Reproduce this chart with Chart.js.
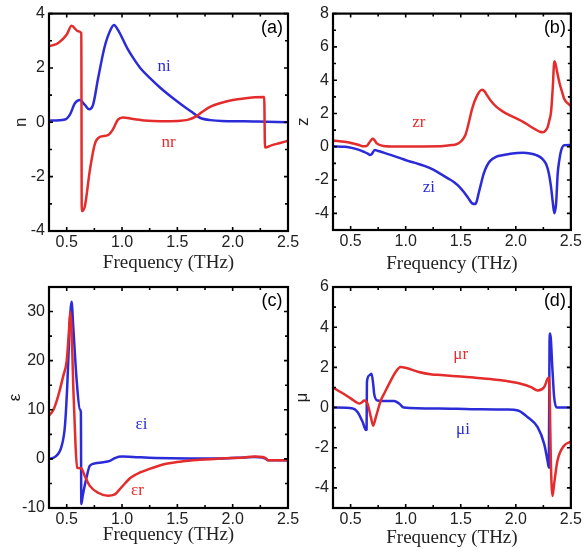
<!DOCTYPE html>
<html>
<head>
<meta charset="utf-8">
<script src="https://cdn.jsdelivr.net/npm/chart.js@4.4.0/dist/chart.umd.min.js"></script>
<style>
  body { margin: 0; background: #fff; }
  #wrap { position: relative; width: 584px; height: 556px; }
  #wrap canvas { position: absolute; left: 0; top: 0; }
</style>
</head>
<body>
<div id="wrap">
  <canvas id="panelA" width="584" height="556"></canvas>
  <canvas id="panelB" width="584" height="556"></canvas>
  <canvas id="panelC" width="584" height="556"></canvas>
  <canvas id="panelD" width="584" height="556"></canvas>
</div>
<script>
const RED = '#e42c2c';
const BLUE = '#2b2bd8';

// **Shared frequency axis (THz)**
const freqMin = 0.34, freqMax = 2.5;
const freqTicks = [0.5, 1.0, 1.5, 2.0, 2.5];
const freqMinor = [0.75, 1.25, 1.75, 2.25];

// **(a) refractive index n**
const nTicks = [-4, -2, 0, 2, 4];
const nMinor = [-3, -1, 1, 3];
const nrFreq = [0.34, 0.424, 0.499, 0.544, 0.604, 0.632, 0.636, 0.664, 0.709, 0.754, 0.799, 0.873, 0.918, 0.963, 1.008, 1.1, 1.2, 1.35, 1.5, 1.6, 1.67, 1.73, 1.8, 1.9, 2.0, 2.1, 2.2, 2.285, 2.292, 2.35, 2.42, 2.5];
const nrVal  = [2.8, 2.92, 3.22, 3.55, 3.35, 3.28, -3.27, -3.09, -1.77, -0.8, -0.54, -0.47, -0.26, 0.1, 0.18, 0.12, 0.07, 0.04, 0.05, 0.1, 0.22, 0.4, 0.58, 0.72, 0.82, 0.88, 0.92, 0.93, -0.93, -0.85, -0.77, -0.68];
const niFreq = [0.34, 0.484, 0.529, 0.574, 0.619, 0.664, 0.702, 0.738, 0.783, 0.844, 0.904, 0.927, 0.963, 1.053, 1.12, 1.174, 1.26, 1.338, 1.41, 1.488, 1.56, 1.638, 1.69, 1.728, 1.8, 1.9, 2.1, 2.3, 2.5];
const niVal  = [0.06, 0.1, 0.28, 0.7, 0.82, 0.64, 0.48, 0.64, 1.6, 2.8, 3.47, 3.58, 3.4, 2.68, 2.25, 1.95, 1.6, 1.3, 1.05, 0.8, 0.58, 0.36, 0.2, 0.13, 0.08, 0.05, 0.04, 0.02, 0.0];

// **(b) impedance z**
const zTicks = [-4, -2, 0, 2, 4, 6, 8];
const zMinor = [-5, -3, -1, 1, 3, 5, 7];
const zrFreq = [0.34, 0.40, 0.46, 0.52, 0.57, 0.61, 0.645, 0.675, 0.70, 0.715, 0.735, 0.77, 0.8, 0.9, 1.1, 1.32, 1.42, 1.47, 1.51, 1.543, 1.575, 1.603, 1.648, 1.693, 1.72, 1.738, 1.78, 1.827, 1.887, 1.947, 2.006, 2.066, 2.126, 2.186, 2.22, 2.246, 2.27, 2.29, 2.305, 2.32, 2.335, 2.35, 2.36, 2.375, 2.396, 2.42, 2.44, 2.465, 2.5];
const zrVal  = [0.38, 0.33, 0.28, 0.2, 0.12, 0.03, 0.05, 0.3, 0.48, 0.42, 0.22, 0.1, 0.05, 0.02, 0.02, 0.03, 0.1, 0.17, 0.38, 0.72, 1.5, 2.28, 3.07, 3.42, 3.3, 3.1, 2.7, 2.38, 2.1, 1.89, 1.7, 1.5, 1.25, 1.01, 0.9, 0.87, 0.97, 1.2, 1.6, 2.09, 3.5, 5.13, 5.0, 4.5, 3.85, 3.3, 2.87, 2.65, 2.45];
const ziFreq = [0.34, 0.45, 0.52, 0.57, 0.62, 0.66, 0.675, 0.69, 0.72, 0.75, 0.8, 0.87, 0.95, 1.02, 1.1, 1.17, 1.25, 1.32, 1.38, 1.44, 1.49, 1.528, 1.57, 1.603, 1.633, 1.648, 1.662, 1.685, 1.707, 1.737, 1.767, 1.82, 1.887, 1.95, 2.066, 2.13, 2.186, 2.24, 2.276, 2.3, 2.32, 2.335, 2.35, 2.366, 2.38, 2.395, 2.41, 2.44, 2.5];
const ziVal  = [0.03, 0.0, -0.08, -0.17, -0.3, -0.43, -0.5, -0.45, -0.2, -0.25, -0.35, -0.5, -0.68, -0.85, -1.0, -1.15, -1.38, -1.64, -1.88, -2.13, -2.42, -2.72, -3.1, -3.4, -3.44, -3.2, -2.81, -2.2, -1.64, -1.15, -0.85, -0.6, -0.5, -0.42, -0.36, -0.4, -0.5, -0.72, -1.05, -1.6, -2.42, -3.3, -3.99, -3.4, -1.64, -0.8, -0.26, 0.09, 0.1];

// **(c) permittivity ε**
const eTicks = [-10, 0, 10, 20, 30];
const eMinor = [-5, 5, 15, 25, 35];
const erFreq = [0.34, 0.38, 0.424, 0.469, 0.5, 0.52, 0.532, 0.545, 0.559, 0.58, 0.594, 0.63, 0.664, 0.709, 0.783, 0.873, 0.93, 0.994, 1.08, 1.17, 1.248, 1.32, 1.4, 1.55, 1.7, 1.9, 2.1, 2.2, 2.27, 2.3, 2.32, 2.5];
const erVal  = [8.8, 10.0, 12.9, 16.9, 20.0, 26.0, 30.0, 26.0, 14.9, 2.65, -1.8, -1.9, -3.5, -5.5, -6.9, -7.5, -7.3, -5.8, -3.8, -2.7, -2.04, -1.5, -1.0, -0.5, -0.2, 0.1, 0.3, 0.5, 0.4, 0.1, -0.3, -0.3];
const eiFreq = [0.34, 0.394, 0.454, 0.484, 0.505, 0.523, 0.544, 0.559, 0.589, 0.619, 0.628, 0.632, 0.645, 0.679, 0.709, 0.76, 0.83, 0.89, 0.93, 0.97, 1.0, 1.1, 1.3, 1.6, 1.9, 2.1, 2.2, 2.27, 2.3, 2.32, 2.5];
const eiVal  = [0.0, 0.4, 2.6, 6.7, 14.9, 25.0, 32.0, 27.0, 16.3, 10.1, 9.5, -9.2, -7.5, -3.8, -1.4, -0.9, -0.7, -0.4, 0.1, 0.45, 0.5, 0.4, 0.2, 0.1, 0.1, 0.3, 0.4, 0.3, 0.0, -0.3, -0.3];

// **(d) permeability μ**
const mTicks = [-4, -2, 0, 2, 4, 6];
const mMinor = [-5, -3, -1, 1, 3, 5];
const mrFreq = [0.34, 0.4, 0.46, 0.51, 0.55, 0.58, 0.6, 0.624, 0.654, 0.684, 0.705, 0.729, 0.774, 0.81, 0.849, 0.909, 0.953, 0.998, 1.118, 1.238, 1.32, 1.5, 1.62, 1.8, 1.917, 2.019, 2.138, 2.198, 2.258, 2.288, 2.3, 2.308, 2.318, 2.333, 2.348, 2.378, 2.438, 2.5];
const mrVal  = [1.0, 0.8, 0.6, 0.42, 0.27, 0.2, 0.25, 0.35, 0.18, -0.48, -0.9, -0.48, 0.35, 0.75, 1.18, 1.77, 2.02, 1.98, 1.77, 1.65, 1.62, 1.54, 1.49, 1.4, 1.32, 1.22, 1.02, 0.85, 1.02, 1.43, 1.5, 0.5, -2.65, -4.4, -3.8, -2.65, -1.9, -1.7];
const miFreq = [0.34, 0.52, 0.564, 0.61, 0.639, 0.645, 0.648, 0.669, 0.69, 0.705, 0.714, 0.744, 0.819, 0.894, 0.94, 0.983, 1.3, 1.6, 1.917, 2.019, 2.108, 2.198, 2.258, 2.288, 2.3, 2.306, 2.312, 2.333, 2.348, 2.372, 2.5];
const miVal  = [0.0, -0.05, -0.23, -0.73, -1.12, -1.1, 1.27, 1.6, 1.68, 1.17, 0.68, 0.35, 0.32, 0.32, 0.2, 0.0, -0.05, -0.08, -0.1, -0.15, -0.48, -0.98, -1.82, -2.65, -2.98, 3.3, 3.68, 1.85, 0.52, 0.0, 0.0];

function toPoints(fs, vs) {
    return fs.map((f, i) => ({ x: f, y: vs[i] }));
}

// frame, inward ticks, curve labels and panel tag
function framePlugin(cfg) {
    return {
        id: 'frame' + cfg.tag,
        afterDraw(chart) {
            const { ctx, chartArea: a, scales: { x, y } } = chart;
            ctx.save();
            ctx.strokeStyle = '#000';
            ctx.lineWidth = 1.6;
            ctx.beginPath();
            const xTick = (v, len) => {
                const px = x.getPixelForValue(v);
                ctx.moveTo(px, a.bottom); ctx.lineTo(px, a.bottom - len);
                ctx.moveTo(px, a.top); ctx.lineTo(px, a.top + len);
            };
            const yTick = (v, len) => {
                const py = y.getPixelForValue(v);
                ctx.moveTo(a.left, py); ctx.lineTo(a.left + len, py);
                ctx.moveTo(a.right, py); ctx.lineTo(a.right - len, py);
            };
            freqTicks.forEach(v => xTick(v, 4));
            freqMinor.forEach(v => xTick(v, 3));
            cfg.yTicks.forEach(v => yTick(v, 4));
            cfg.yMinor.forEach(v => yTick(v, 3));
            ctx.stroke();

            ctx.lineWidth = 2.2;
            ctx.strokeRect(a.left, a.top, a.right - a.left, a.bottom - a.top);

            ctx.textAlign = 'center';
            ctx.textBaseline = 'middle';
            ctx.font = '17px "Liberation Serif"';
            cfg.labels.forEach(l => {
                ctx.fillStyle = l.color;
                ctx.fillText(l.text, x.getPixelForValue(l.f), y.getPixelForValue(l.v));
            });

            ctx.fillStyle = '#000';
            ctx.font = '18px "Liberation Sans"';
            ctx.fillText('(' + cfg.tag + ')', a.right - 16, a.top + 14);
            ctx.restore();
        }
    };
}

function makePanel(id, cfg) {
    const yw = cfg.yTitleOff + 10.2;
    const xh = cfg.xTitleOff + 11.4;
    return new Chart(document.getElementById(id).getContext('2d'), {
        type: 'line',
        data: {
            datasets: cfg.series.map(s => ({
                data: toPoints(s.f, s.v),
                borderColor: s.color,
                borderWidth: 2.5,
                pointRadius: 0,
                fill: false,
                cubicInterpolationMode: 'monotone'
            }))
        },
        options: {
            responsive: false,
            animation: false,
            events: [],
            layout: { padding: { left: cfg.L - yw, top: cfg.T, right: 584 - cfg.R, bottom: 556 - cfg.B - xh } },
            plugins: { legend: { display: false }, tooltip: { enabled: false } },
            scales: {
                x: {
                    type: 'linear', min: freqMin, max: freqMax,
                    afterBuildTicks: s => { s.ticks = freqTicks.map(v => ({ value: v })); },
                    afterFit: s => { s.height = xh; },
                    grid: { display: false, drawTicks: false },
                    border: { display: false },
                    ticks: { padding: 2, color: '#222', font: { family: 'Liberation Sans', size: 16 }, maxRotation: 0, callback: v => v.toFixed(1) },
                    title: { display: true, text: 'Frequency (THz)', color: '#222', padding: 0, font: { family: 'Liberation Serif', size: 19 } }
                },
                y: {
                    type: 'linear', min: cfg.yMin, max: cfg.yMax,
                    afterBuildTicks: s => { s.ticks = cfg.yTicks.map(v => ({ value: v })); },
                    afterFit: s => { s.width = yw; },
                    grid: { display: false, drawTicks: false },
                    border: { display: false },
                    ticks: { padding: 4, color: '#222', font: { family: 'Liberation Sans', size: 16 } },
                    title: { display: true, text: cfg.yTitle, color: '#222', padding: 0, font: { family: 'Liberation Sans', size: 17 } }
                }
            }
        },
        plugins: [framePlugin(cfg)]
    });
}

makePanel('panelA', {
    tag: 'a', L: 49, T: 10, R: 288, B: 231, yTitleOff: 28, xTitleOff: 32,
    yMin: -4, yMax: 4, yTicks: nTicks, yMinor: nMinor, yTitle: 'n',
    series: [{ f: nrFreq, v: nrVal, color: RED }, { f: niFreq, v: niVal, color: BLUE }],
    labels: [{ text: 'ni', f: 1.38, v: 2.06, color: BLUE }, { text: 'nr', f: 1.42, v: -0.76, color: RED }]
});

makePanel('panelB', {
    tag: 'b', L: 333, T: 10, R: 573, B: 230, yTitleOff: 30, xTitleOff: 34,
    yMin: -5, yMax: 8, yTicks: zTicks, yMinor: zMinor, yTitle: 'z',
    series: [{ f: zrFreq, v: zrVal, color: RED }, { f: ziFreq, v: ziVal, color: BLUE }],
    labels: [{ text: 'zr', f: 1.12, v: 1.44, color: RED }, { text: 'zi', f: 1.21, v: -2.44, color: BLUE }]
});

makePanel('panelC', {
    tag: 'c', L: 49, T: 287, R: 288, B: 508, yTitleOff: 34, xTitleOff: 27,
    yMin: -10, yMax: 35, yTicks: eTicks, yMinor: eMinor, yTitle: 'ε',
    series: [{ f: erFreq, v: erVal, color: RED }, { f: eiFreq, v: eiVal, color: BLUE }],
    labels: [{ text: 'εi', f: 1.176, v: 6.9, color: BLUE }, { text: 'εr', f: 1.14, v: -6.5, color: RED }]
});

makePanel('panelD', {
    tag: 'd', L: 333, T: 287, R: 573, B: 508, yTitleOff: 31, xTitleOff: 30,
    yMin: -5, yMax: 6, yTicks: mTicks, yMinor: mMinor, yTitle: 'μ',
    series: [{ f: mrFreq, v: mrVal, color: RED }, { f: miFreq, v: miVal, color: BLUE }],
    labels: [{ text: 'μr', f: 1.5, v: 2.65, color: RED }, { text: 'μi', f: 1.52, v: -1.1, color: BLUE }]
});
</script>
</body>
</html>
